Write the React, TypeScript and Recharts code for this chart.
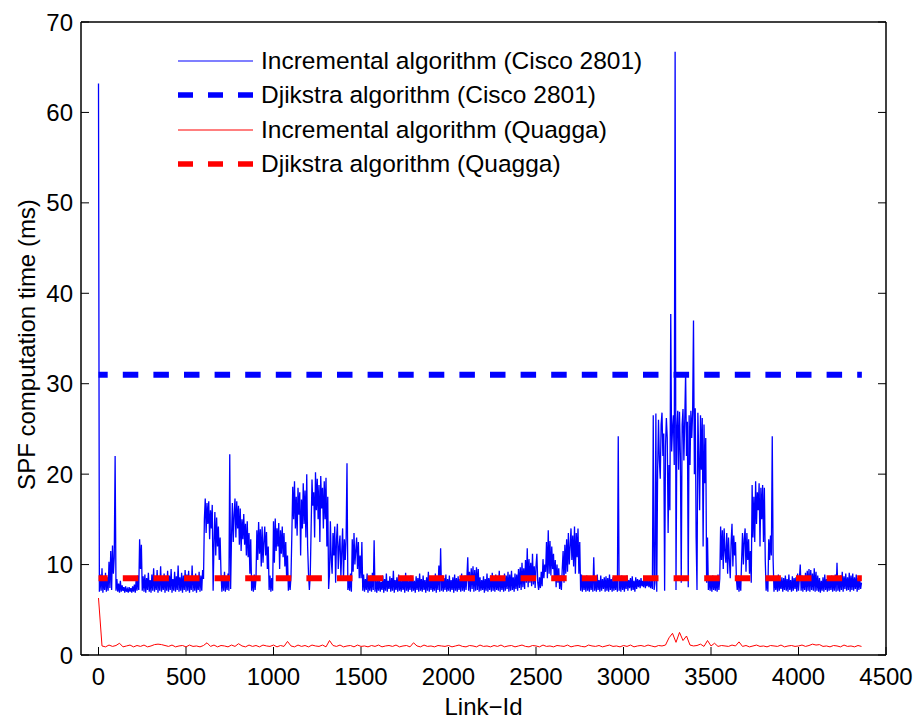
import { LineChart, Line, XAxis, YAxis, Legend } from 'recharts';

const FONT = "'Liberation Sans', Arial, Helvetica, sans-serif";

const X_TICKS = [0, 500, 1000, 1500, 2000, 2500, 3000, 3500, 4000, 4500];
const Y_TICKS = [0, 10, 20, 30, 40, 50, 60, 70];

// Incremental algorithm (Cisco 2801), one value every 5 link ids, 500 ids per array
const CISCO_STEP = 5;
const cisco0 = [
  63.2, 7.0, 8.9, 7.1, 9.6, 6.9, 8.4, 7.2, 9.1, 7.0,
  8.6, 7.1, 10.3, 7.4, 11.5, 7.2, 12.1, 9.0, 10.8, 22.0,
  7.1, 8.4, 7.0, 7.9, 6.9, 8.2, 7.0, 7.7, 7.1, 7.5,
  6.9, 7.6, 7.0, 7.3, 6.9, 7.5, 7.0, 7.4, 6.9, 7.6,
  7.0, 7.8, 6.9, 8.3, 7.1, 8.8, 7.2, 12.8, 9.5, 12.2,
  7.1, 8.7, 7.0, 8.9, 6.9, 8.5, 7.2, 9.1, 7.0, 8.3,
  6.9, 8.9, 7.1, 9.6, 7.0, 8.6, 7.2, 9.4, 6.9, 8.7,
  7.1, 9.8, 7.0, 8.5, 7.2, 9.0, 6.9, 8.6, 7.1, 9.3,
  7.0, 8.8, 7.2, 9.5, 6.9, 8.4, 7.1, 9.2, 7.0, 8.7,
  7.2, 9.9, 7.0, 8.6, 7.1, 9.1, 6.9, 8.8, 7.2, 9.4,
];
const cisco1 = [
  7.0, 8.9, 7.1, 9.3, 6.9, 8.6, 7.2, 9.9, 7.0, 8.7,
  7.1, 9.0, 6.9, 8.5, 7.2, 9.2, 7.0, 8.8, 7.1, 9.4,
  8.4, 15.0, 17.3, 13.5, 16.8, 14.5, 17.0, 12.8, 16.0, 14.0,
  16.6, 7.1, 12.5, 15.8, 11.0, 15.2, 12.0, 14.2, 10.5, 13.0,
  9.0, 7.0, 8.8, 7.1, 9.2, 7.0, 8.6, 7.2, 9.0, 7.1,
  22.2, 7.3, 13.0, 16.8, 12.5, 15.5, 17.3, 13.0, 17.0, 14.0,
  16.5, 12.2, 16.2, 11.5, 15.0, 12.8, 15.6, 12.2, 14.5, 11.0,
  14.8, 10.8, 13.5, 9.0, 12.8, 7.1, 8.6, 7.0, 8.9, 7.2,
  8.5, 13.8, 10.5, 14.7, 11.2, 13.9, 9.8, 14.2, 10.2, 12.5,
  14.2, 11.0, 13.6, 9.5, 12.0, 7.2, 8.8, 7.0, 8.5, 7.1,
];
const cisco2 = [
  14.8, 10.2, 15.1, 11.5, 14.0, 12.0, 14.6, 9.5, 13.8, 11.2,
  14.2, 10.8, 13.5, 9.8, 12.5, 8.5, 11.0, 7.1, 8.7, 7.2,
  8.7, 13.5, 18.6, 15.0, 19.2, 14.0, 17.5, 13.2, 18.5, 15.5,
  18.0, 11.0, 17.2, 14.0, 19.0, 14.5, 18.2, 13.0, 20.0, 12.0,
  9.0, 7.2, 8.8, 14.0, 19.4, 16.5, 18.0, 13.0, 20.2, 16.0,
  19.5, 15.0, 18.8, 12.5, 19.8, 16.2, 18.5, 14.0, 19.2, 15.0,
  19.6, 12.0, 17.5, 7.3, 9.0, 14.8, 10.5, 9.0, 13.5, 11.0,
  14.2, 8.0, 12.8, 14.5, 9.5, 12.0, 13.2, 8.6, 11.5, 14.0,
  8.3, 12.8, 10.5, 13.0, 21.2, 7.2, 8.5, 7.1, 9.0, 7.0,
  12.8, 9.2, 13.5, 10.0, 11.5, 13.0, 9.5, 12.5, 8.5, 11.0,
];
const cisco3 = [
  8.5, 12.5, 7.1, 8.9, 7.0, 8.4, 7.2, 9.0, 6.9, 8.5,
  7.1, 8.8, 7.0, 9.1, 7.2, 12.7, 7.0, 8.6, 6.9, 8.3,
  7.1, 8.6, 7.0, 8.1, 7.2, 8.8, 6.9, 8.4, 7.1, 9.0,
  7.0, 8.2, 7.3, 8.7, 7.0, 8.5, 7.1, 9.3, 6.9, 8.3,
  7.2, 8.6, 7.0, 8.9, 7.1, 8.2, 7.0, 8.7, 7.2, 8.4,
  6.9, 9.1, 7.1, 8.5, 7.0, 8.3, 7.2, 8.8, 7.0, 8.6,
  7.1, 8.2, 6.9, 8.7, 7.2, 8.5, 7.0, 9.0, 7.1, 8.4,
  7.0, 8.8, 7.2, 8.3, 6.9, 8.6, 7.1, 9.2, 7.0, 8.5,
  7.2, 8.7, 7.0, 8.4, 7.1, 9.0, 6.9, 8.6, 7.2, 9.9,
  7.0, 11.8, 7.1, 8.8, 7.0, 8.5, 7.2, 8.9, 7.0, 8.4,
];
const cisco4 = [
  7.1, 8.8, 7.0, 8.3, 7.2, 8.6, 6.9, 8.9, 7.1, 8.5,
  7.0, 8.7, 7.2, 8.4, 7.0, 9.0, 7.1, 8.6, 7.0, 8.8,
  7.2, 8.5, 10.8, 7.1, 9.2, 7.0, 9.6, 7.3, 9.8, 7.0,
  9.4, 7.1, 9.7, 7.2, 9.5, 7.0, 8.6, 7.1, 8.3, 7.2,
  8.7, 6.9, 8.4, 7.1, 9.0, 7.0, 8.5, 7.2, 8.8, 7.0,
  9.1, 7.1, 8.6, 7.0, 8.9, 7.2, 8.4, 7.1, 9.3, 7.0,
  8.7, 7.2, 8.5, 7.0, 9.0, 7.1, 8.8, 7.3, 9.2, 7.0,
  8.9, 7.1, 9.3, 7.2, 8.6, 7.0, 9.0, 7.3, 8.9, 7.1,
  9.5, 7.4, 9.7, 7.2, 10.2, 7.5, 9.6, 7.3, 10.5, 8.0,
  11.8, 7.5, 10.6, 8.0, 10.2, 7.6, 11.2, 7.8, 9.8, 7.4,
];
const cisco5 = [
  9.8, 11.2, 8.0, 7.2, 8.6, 7.4, 9.2, 7.6, 10.6, 8.5,
  10.0, 9.2, 12.5, 8.5, 13.8, 9.0, 12.6, 8.8, 12.0, 9.5,
  11.2, 8.2, 10.5, 7.5, 10.0, 8.0, 9.6, 7.3, 8.8, 7.2,
  9.5, 11.5, 8.0, 12.2, 9.0, 12.8, 9.2, 13.5, 10.0, 12.0,
  14.0, 10.5, 13.2, 9.8, 14.2, 9.0, 13.5, 10.8, 14.0, 9.0,
  12.5, 7.1, 8.9, 7.0, 8.6, 7.2, 8.4, 7.0, 8.8, 7.1,
  8.5, 7.0, 8.7, 7.2, 8.3, 7.0, 10.8, 7.1, 8.5, 7.0,
  8.9, 7.2, 8.3, 7.0, 8.8, 7.1, 8.4, 7.3, 8.6, 7.0,
  8.7, 7.1, 8.5, 7.0, 8.9, 7.2, 8.4, 7.0, 8.6, 7.1,
  8.3, 7.2, 8.7, 7.0, 24.2, 7.1, 8.5, 7.0, 8.8, 7.2,
];
const cisco6 = [
  8.6, 7.0, 8.4, 7.3, 8.8, 7.1, 8.3, 7.4, 8.5, 7.1,
  8.7, 7.2, 8.2, 7.0, 8.6, 7.3, 8.4, 7.5, 8.3, 7.4,
  8.5, 7.6, 8.2, 7.5, 8.6, 7.4, 8.3, 7.6, 8.4, 7.5,
  8.2, 7.4, 8.5, 7.3, 26.5, 7.2, 8.0, 26.7, 7.0, 20.5,
  26.0, 21.5, 19.5, 25.5, 26.8, 22.0, 24.5, 7.1, 23.0, 26.2,
  24.0, 13.5, 21.0, 16.0, 37.7, 22.5, 25.0, 26.5, 21.0, 66.7,
  7.2, 25.0, 27.0, 20.5, 26.9, 22.0, 8.0, 25.5, 27.2, 21.5,
  26.0, 31.2, 22.0, 25.8, 7.5, 26.5, 21.0, 27.0, 24.0, 26.8,
  37.0, 20.0, 27.3, 13.0, 7.2, 26.8, 22.0, 16.0, 26.5, 20.5,
  26.2, 12.0, 25.5, 19.0, 24.0, 8.0, 13.0, 7.2, 8.6, 7.1,
];
const cisco7 = [
  8.5, 7.0, 8.8, 7.2, 8.4, 7.1, 8.6, 7.0, 8.9, 7.2,
  8.4, 14.2, 10.5, 13.8, 9.5, 14.0, 11.5, 10.2, 13.5, 9.0,
  13.0, 10.5, 8.5, 12.5, 14.5, 9.8, 13.2, 11.0, 12.5, 8.5,
  7.2, 8.8, 7.0, 8.6, 7.1, 10.5, 13.5, 10.0, 12.8, 14.0,
  9.2, 13.5, 10.5, 12.8, 9.0, 11.5, 8.0, 18.8, 13.0, 17.5,
  12.5, 19.2, 14.5, 18.0, 16.0, 19.0, 12.0, 18.5, 15.0, 18.8,
  12.5, 18.5, 10.5, 7.1, 8.6, 7.0, 12.8, 10.5, 13.2, 11.0,
  24.2, 10.5, 7.0, 8.7, 7.2, 8.4, 7.0, 8.9, 7.1, 8.3,
  7.3, 8.6, 7.0, 8.5, 7.2, 8.8, 7.1, 8.4, 7.0, 8.9,
  7.2, 8.3, 7.0, 8.7, 7.1, 8.5, 7.3, 8.6, 7.0, 9.0,
];
const cisco8 = [
  7.1, 8.4, 10.0, 7.1, 8.8, 7.0, 8.6, 7.2, 9.1, 7.0,
  9.3, 7.1, 9.5, 7.0, 9.4, 7.2, 9.0, 7.1, 9.6, 7.0,
  9.2, 7.1, 8.8, 7.0, 8.5, 6.9, 8.2, 7.1, 8.6, 7.0,
  8.9, 7.2, 8.4, 7.0, 8.7, 7.1, 8.5, 7.2, 8.8, 7.0,
  8.6, 7.1, 8.9, 7.0, 10.2, 7.1, 8.5, 7.0, 8.8, 7.2,
  9.2, 7.0, 8.7, 7.3, 9.0, 7.1, 8.6, 7.2, 9.1, 7.0,
  8.8, 7.2, 9.0, 7.1, 8.6, 7.3, 8.9, 7.0, 8.5, 7.2,
  8.4, 7.3, 8.0,
];

// Incremental algorithm (Quagga), one value every 20 link ids
const QUAGGA_STEP = 20;
const quagga0 = [
  6.3, 1.0, 0.9, 1.1, 0.95, 1.05, 1.3, 0.9, 1.0, 1.1,
  0.9, 1.05, 0.95, 1.1, 0.9, 1.0, 1.15, 1.2, 1.15, 1.05,
  0.95, 1.1, 0.9, 1.0, 1.05, 0.9, 1.1, 0.95, 1.0, 0.9,
  1.05, 1.35, 0.95, 1.1, 0.9, 1.05, 1.0, 0.9, 1.1, 0.95,
  1.25, 1.0, 0.9, 1.1, 0.95, 1.05, 0.9, 1.1, 1.0, 0.95,
];
const quagga1 = [
  1.1, 0.9, 1.05, 0.95, 1.5, 1.0, 0.9, 1.1, 0.95, 1.05,
  0.9, 1.1, 1.0, 0.95, 1.1, 0.9, 1.6, 1.05, 0.95, 1.1,
  0.9, 1.0, 1.05, 0.9, 1.1, 0.95, 1.0, 0.9, 1.05, 0.95,
  1.1, 0.9, 1.0, 1.05, 0.95, 1.1, 0.9, 1.0, 1.05, 0.9,
  1.35, 1.0, 0.9, 1.1, 0.95, 1.0, 0.9, 1.05, 1.0, 0.95,
];
const quagga2 = [
  1.05, 0.9, 1.0, 1.1, 0.95, 0.9, 1.05, 1.0, 0.9, 1.1,
  0.95, 1.0, 0.9, 1.05, 0.95, 1.1, 0.9, 1.0, 1.05, 0.9,
  1.0, 1.1, 0.95, 0.9, 1.05, 1.0, 0.9, 1.1, 0.95, 1.0,
  0.9, 1.05, 1.0, 0.95, 1.1, 0.9, 1.0, 1.05, 0.95, 0.9,
  1.1, 1.0, 0.95, 1.05, 0.9, 1.0, 1.1, 0.95, 1.0, 0.9,
];
const quagga3 = [
  1.05, 0.95, 1.1, 0.9, 1.0, 1.05, 0.95, 1.1, 1.0, 0.9,
  1.05, 1.0, 1.1, 1.9, 2.4, 1.4, 2.5, 1.6, 2.1, 1.1,
  1.0, 1.05, 1.2, 0.95, 1.6, 1.0, 1.3, 0.95, 1.05, 1.0,
  0.95, 1.1, 1.0, 1.45, 0.95, 1.05, 0.9, 1.0, 1.1, 0.95,
  1.0, 0.9, 1.05, 1.0, 0.95, 1.1, 0.9, 1.0, 1.05, 0.95,
];
const quagga4 = [
  1.0, 1.1, 0.95, 1.05, 1.2, 1.1, 1.15, 0.95, 1.0, 0.9,
  1.05, 1.0, 0.9, 1.1, 0.95, 1.0, 0.9, 1.05, 0.95,
];

// Dijkstra computation times (constant)
const DIJKSTRA_CISCO = 31;
const DIJKSTRA_QUAGGA = 8.5;
const LAST_LINK = 4362;

const ciscoData = [...cisco0, ...cisco1, ...cisco2, ...cisco3, ...cisco4, ...cisco5, ...cisco6, ...cisco7, ...cisco8]
  .map((y, i) => ({ x: i * CISCO_STEP, y }));
const quaggaData = [...quagga0, ...quagga1, ...quagga2, ...quagga3, ...quagga4]
  .map((y, i) => ({ x: i * QUAGGA_STEP, y }));
const dijkstraCisco = [{ x: 0, y: DIJKSTRA_CISCO }, { x: LAST_LINK, y: DIJKSTRA_CISCO }];
const dijkstraQuagga = [{ x: 0, y: DIJKSTRA_QUAGGA }, { x: LAST_LINK, y: DIJKSTRA_QUAGGA }];

const BLUE = '#0000ff';
const RED = '#ff0000';
const DASH = '15.5 15.1';

const LEGEND_ITEMS = [
  { label: 'Incremental algorithm (Cisco 2801)', color: BLUE, dashed: false },
  { label: 'Djikstra algorithm (Cisco 2801)', color: BLUE, dashed: true },
  { label: 'Incremental algorithm (Quagga)', color: RED, dashed: false },
  { label: 'Djikstra algorithm (Quagga)', color: RED, dashed: true },
];

const renderLegend = () => (
  <div style={{ fontFamily: FONT, fontSize: 24.5, color: '#000' }}>
    {LEGEND_ITEMS.map(it => (
      <div key={it.label} style={{ display: 'flex', alignItems: 'center', height: 34.5 }}>
        <svg width={75} height={10} style={{ marginRight: 8, flex: 'none' }}>
          <line
            x1={0} y1={5} x2={75} y2={5}
            stroke={it.color}
            strokeWidth={it.dashed ? 5.5 : 1.2}
            strokeDasharray={it.dashed ? '15 15' : undefined}
          />
        </svg>
        <span style={{ lineHeight: '34.5px', whiteSpace: 'nowrap' }}>{it.label}</span>
      </div>
    ))}
  </div>
);

const renderYLabel = (props: any) => {
  const vb = props.viewBox;
  const cx = vb.x + 35;
  const cy = vb.y + vb.height / 2 + 6;
  return (
    <text
      x={cx} y={cy}
      transform={`rotate(-90 ${cx} ${cy})`}
      textAnchor="middle"
      fontSize={24}
      fontFamily={FONT}
      fill="#000"
    >
      SPF computation time (ms)
    </text>
  );
};

const tickStyle = { fill: '#000', fontSize: 24, fontFamily: FONT };
const axisStyle = { stroke: '#000', strokeWidth: 1.5 };
const tickLineStyle = { stroke: '#000', strokeWidth: 1 };

export default function App() {
  return (
    <div style={{ position: 'absolute', left: 0, top: 0, width: 916, height: 720, background: '#fff' }}>
      <LineChart width={916} height={720} margin={{ top: 21, right: 29, bottom: 0, left: 0 }}>
        <XAxis
          type="number"
          dataKey="x"
          domain={[-100, 4500]}
          ticks={X_TICKS}
          interval={0}
          allowDataOverflow
          height={65}
          tickSize={-8}
          tickMargin={21}
          tick={tickStyle}
          axisLine={axisStyle}
          tickLine={tickLineStyle}
          label={{ value: 'Link\u2212Id', position: 'insideBottom', offset: 5, fontSize: 24, fontFamily: FONT, fill: '#000' }}
        />
        <XAxis
          xAxisId="top"
          orientation="top"
          type="number"
          domain={[-100, 4500]}
          ticks={X_TICKS}
          interval={0}
          allowDataOverflow
          height={1}
          tickSize={-8}
          tickFormatter={() => ''}
          axisLine={axisStyle}
          tickLine={tickLineStyle}
        />
        <YAxis
          type="number"
          domain={[0, 70]}
          ticks={Y_TICKS}
          interval={0}
          allowDataOverflow
          width={81}
          tickSize={-8}
          tickMargin={16}
          tick={tickStyle}
          axisLine={axisStyle}
          tickLine={tickLineStyle}
          label={{ content: renderYLabel }}
        />
        <YAxis
          yAxisId="right"
          orientation="right"
          type="number"
          domain={[0, 70]}
          ticks={Y_TICKS}
          interval={0}
          allowDataOverflow
          width={1}
          tickSize={-8}
          tickFormatter={() => ''}
          axisLine={axisStyle}
          tickLine={tickLineStyle}
        />
        <Legend
          layout="vertical"
          verticalAlign="middle"
          align="center"
          content={renderLegend}
          wrapperStyle={{ left: 178, top: 43.5, width: 'auto' }}
        />
        <Line data={ciscoData} dataKey="y" type="linear" stroke={BLUE} strokeWidth={1.3} dot={false} isAnimationActive={false} />
        <Line data={dijkstraCisco} dataKey="y" type="linear" stroke={BLUE} strokeWidth={6} strokeDasharray={DASH} strokeDashoffset={6.3} dot={false} isAnimationActive={false} />
        <Line data={quaggaData} dataKey="y" type="linear" stroke={RED} strokeWidth={1} dot={false} isAnimationActive={false} />
        <Line data={dijkstraQuagga} dataKey="y" type="linear" stroke={RED} strokeWidth={6} strokeDasharray={DASH} strokeDashoffset={6.3} dot={false} isAnimationActive={false} />
      </LineChart>
    </div>
  );
}
